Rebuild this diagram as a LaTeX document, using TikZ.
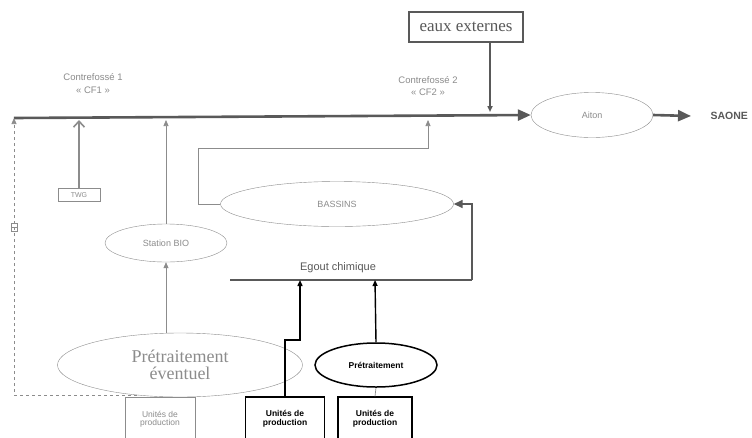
\documentclass[tikz,border=0pt]{standalone}
\usepackage{fontspec}
\setmainfont{Liberation Sans}
\newfontfamily\serifface{Liberation Serif}
\usetikzlibrary{positioning,shapes,arrows.meta}
\definecolor{paleink}{gray}{0.55}
\definecolor{midink}{gray}{0.35}
\newcommand{\fsz}[1]{\fontsize{#1}{#1}\selectfont}
\begin{document}
\begin{tikzpicture}[x=1pt,y=-1pt,>={Triangle[length=6pt,width=5pt]},
  oval/.style={draw=paleink,ellipse,inner sep=0pt,text=paleink,font=\fsz{9}},
  unitbox/.style={draw,align=center,inner sep=0pt,minimum height=44pt,font=\fsz{8.5}\bfseries},
  thinline/.style={draw=paleink,line width=0.7pt},
  mainline/.style={draw=midink,line width=2.6pt},
  label/.style={text=paleink,font=\fsz{9.5}}]
\useasboundingbox[fill=white] (0,0) rectangle (752,437);
% nodes
\node[draw=midink,line width=1.3pt,minimum width=114pt,minimum height=30pt,inner sep=0pt,text=midink,font=\serifface\fsz{17}] (ext) at (466,27) {eaux externes};
\node[oval,minimum width=122pt,minimum height=45pt] (aiton) at (592,115) {Aiton};
\node[anchor=west,text=midink,font=\fsz{10.5}\bfseries] (saone) at (707,116) {SAONE};
\node[oval,minimum width=233pt,minimum height=45pt] (bassins) at (337,204) {BASSINS};
\node[oval,minimum width=122pt,minimum height=38pt] (bio) at (166,243) {Station BIO};
\node[oval,minimum width=245pt,minimum height=64pt,align=center,font=\serifface\fsz{18}] (pretev) at (180,365) {Prétraitement\\[-1pt]éventuel};
\node[draw,ellipse,line width=1.5pt,inner sep=0pt,minimum width=122pt,minimum height=44pt,font=\fsz{8.5}\bfseries] (pret) at (376,365) {Prétraitement};
\node[unitbox,draw=paleink,text=paleink,line width=1pt,minimum width=70pt,font=\fsz{8.5}] (unita) at (160,419) {Unités de\\production};
\node[unitbox,line width=1.3pt,minimum width=79pt] (unitb) at (285,419) {Unités de\\production};
\node[unitbox,line width=1.3pt,minimum width=74pt] (unitc) at (375,419) {Unités de\\production};
\node[draw=paleink,line width=1pt,minimum width=42pt,minimum height=13pt,inner sep=0pt,text=paleink,font=\fsz{7}] (twg) at (79,195) {TWG};
\node[label] (cf1) at (93,77) {Contrefossé 1};
\node[label,below=6pt of cf1.center,anchor=north] {« CF1 »};
\node[label] (cf2) at (428,80) {Contrefossé 2};
\node[label,below=5pt of cf2.center,anchor=north] {« CF2 »};
\node[text=midink,font=\fsz{11}] (egout) at (338,268) {Egout chimique};
% points on the lines
\coordinate (start) at (14,118);
\coordinate (egl) at (230,280);
\coordinate (egr) at (472,280);
\coordinate (bl) at (198,148);
\coordinate (br) at (428,148);
\coordinate (jog) at (300,340);
\coordinate (eg1) at (300,280);
\coordinate (eg2) at (375,280);
% connectors
\draw[mainline,-{Triangle[length=13pt,width=11pt]}] (start) -- (aiton.west);
\draw[mainline,-{Triangle[length=13pt,width=11pt]}] (aiton.east) -- ([xshift=-16pt]saone.west);
\draw[midink,line width=2pt,->] (ext.south -| br) ++(62,0) coordinate (extin) -- (extin |- 112,112);
\draw[paleink,line width=1.6pt,-{Straight Barb[length=6pt,width=11pt]}] (twg.north) -- (twg.north |- 120,120);
\draw[thinline,->] (bio.north) -- (bio.north |- 120,120);
\draw[thinline,->] (pretev.north -| bio.south) -- (bio.south);
\draw[thinline,dashed,->] (pretev.215) -| (start);
\draw[thinline] (11,223) rectangle (17,231) (11,227) -- (17,227);
\draw[thinline,->] (bassins.west) -| (bl) -- (br) -- (br |- 120,120);
\draw[midink,line width=2.6pt] (egl) -- (egr);
\draw[midink,line width=1.6pt,-{Triangle[length=9pt,width=8pt]}] (egr) |- (bassins.east);
\draw[black,line width=1.4pt,->] (unitb.north) |- (jog) -- (eg1);
\draw[black,line width=1.4pt,->] (pret.north) -- (eg2);
\draw[thinline] (unitc.north) -- (pret.south);
\end{tikzpicture}
\end{document}
